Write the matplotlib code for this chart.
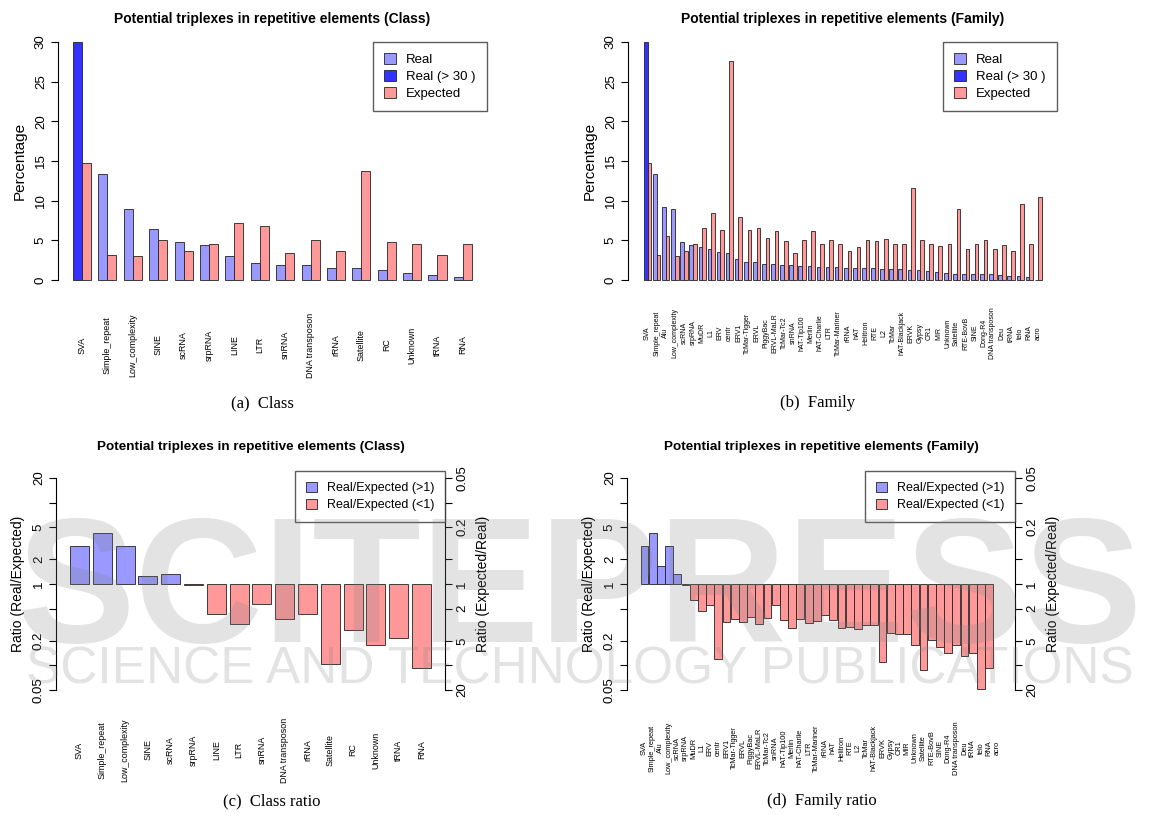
import matplotlib
matplotlib.use('Agg')
import matplotlib.pyplot as plt
from matplotlib.patches import Patch
from matplotlib.ticker import NullLocator
from matplotlib import transforms
import numpy as np

plt.rcParams['font.family'] = ['Liberation Sans', 'DejaVu Sans']

W, H = 1160, 816

class_labels = ['SVA', 'Simple_repeat', 'Low_complexity', 'SINE', 'scRNA', 'srpRNA', 'LINE', 'LTR',
                'snRNA', 'DNA transposon', 'rRNA', 'Satellite', 'RC', 'Unknown', 'tRNA', 'RNA']
class_real = [43.5, 13.4, 8.9, 6.4, 4.74, 4.45, 3.05, 2.2, 1.95, 1.85, 1.55, 1.45, 1.32, 0.82, 0.68, 0.42]
class_expected = [14.7, 3.2, 3.05, 5.1, 3.6, 4.6, 7.15, 6.75, 3.45, 5.0, 3.65, 13.75, 4.85, 4.6, 3.15, 4.5]

family_labels = ['SVA', 'Simple_repeat', 'Alu', 'Low_complexity', 'scRNA', 'srpRNA', 'MuDR', 'L1', 'ERV',
                 'centr', 'ERV1', 'TcMar-Tigger', 'ERVL', 'PiggyBac', 'ERVL-MaLR', 'TcMar-Tc2', 'snRNA',
                 'hAT-Tip100', 'Merlin', 'hAT-Charlie', 'LTR', 'TcMar-Mariner', 'rRNA', 'hAT', 'Helitron',
                 'RTE', 'L2', 'TcMar', 'hAT-Blackjack', 'ERVK', 'Gypsy', 'CR1', 'MIR', 'Unknown', 'Satellite',
                 'RTE-BovB', 'SINE', 'Dong-R4', 'DNA transposon', 'Deu', 'tRNA', 'telo', 'RNA', 'acro']
family_real = [43.5, 13.4, 9.15, 8.9, 4.74, 4.45, 4.1, 3.95, 3.55, 3.35, 2.7, 2.3, 2.25, 2.05, 2.0, 1.9, 1.9,
               1.82, 1.75, 1.68, 1.68, 1.6, 1.52, 1.5, 1.45, 1.45, 1.43, 1.42, 1.42, 1.3, 1.25, 1.12, 1.03,
               0.82, 0.8, 0.78, 0.75, 0.73, 0.7, 0.58, 0.53, 0.5, 0.42, 0.0]
family_expected = [14.7, 3.2, 5.5, 3.05, 3.6, 4.6, 6.5, 8.4, 6.35, 27.65, 7.9, 6.25, 6.55, 5.25, 6.2, 4.9,
                   3.45, 5.1, 6.15, 4.55, 5.05, 4.5, 3.7, 4.1, 5.05, 4.9, 5.15, 4.5, 4.55, 11.65, 5.05, 4.55,
                   4.25, 4.6, 9.0, 3.85, 4.5, 5.1, 3.95, 4.4, 3.7, 9.6, 4.5, 10.5]

light_blue = '#9999FF'
dark_blue = '#3333FF'
pink = '#FF9999'
edge = '#222222'

ratio_ticks = [0.05, 0.1, 0.2, 0.5, 1, 2, 5, 10, 20]
left_tick_labels = ['0.05', '', '0.2', '', '1', '2', '5', '', '20']
right_ticks = [20, 10, 5, 2, 1, 0.5, 0.2, 0.1, 0.05]
right_tick_labels = ['20', '', '5', '2', '1', '', '0.2', '', '0.05']

fig = plt.figure(figsize=(W / 100, H / 100), dpi=100)


def add_ax(left, top, right, bottom):
    return fig.add_axes([left / W, 1 - bottom / H, (right - left) / W, (bottom - top) / H])


def style_y(ax, side='left'):
    for s in ['top', 'right', 'bottom', 'left']:
        ax.spines[s].set_visible(s == side)
    ax.spines[side].set_linewidth(0.8)
    ax.set_xticks([])
    ax.tick_params(axis='y', length=5, width=0.8, pad=3, labelsize=9.5, labelrotation=90)
    for t in ax.get_yticklabels():
        t.set_va('center')


def x_labels(ax, labels, y_px, size):
    trans = transforms.blended_transform_factory(ax.transData, fig.transFigure)
    for i, lab in enumerate(labels):
        ax.text(i, 1 - y_px / H, lab, transform=trans, rotation=90, ha='center', va='center',
                fontsize=size, clip_on=False)


def pct_panel(left, right, labels, real, expected, width, xlim, title, label_y, label_size):
    ax = add_ax(left, 42, right, 280)
    real = np.array(real)
    expected = np.array(expected)
    x = np.arange(len(labels))
    shown = np.minimum(real, 30)
    colors = [dark_blue if r > 30 else light_blue for r in real]
    ax.bar(x - width / 2, shown, width, color=colors, edgecolor=edge, linewidth=0.6, clip_on=False)
    ax.bar(x + width / 2, expected, width, color=pink, edgecolor=edge, linewidth=0.6, clip_on=False)
    ax.set_xlim(*xlim)
    ax.set_ylim(0, 30)
    ax.set_yticks([0, 5, 10, 15, 20, 25, 30])
    style_y(ax)
    ax.set_ylabel('Percentage', fontsize=11, labelpad=6)
    ax.set_title(title, fontsize=10, fontweight='bold', pad=14)
    x_labels(ax, labels, label_y, label_size)
    handles = [Patch(facecolor=light_blue, edgecolor=edge, linewidth=0.6, label='Real'),
               Patch(facecolor=dark_blue, edgecolor=edge, linewidth=0.6, label='Real (> 30 )'),
               Patch(facecolor=pink, edgecolor=edge, linewidth=0.6, label='Expected')]
    ax.legend(handles=handles, loc='upper right', bbox_to_anchor=(1, 1), borderaxespad=0,
              fancybox=False, edgecolor='#333333', fontsize=9.5, handlelength=0.9, handleheight=0.9,
              handletextpad=0.8, labelspacing=0.3, borderpad=0.85)
    return ax


def ratio_panel(left, right, labels, real, expected, width, xlim, title, label_y, label_size):
    ax = add_ax(left, 478, right, 690)
    real = np.array(real)
    expected = np.array(expected)
    ratio = real / expected
    x = np.arange(len(labels))
    up = ratio >= 1
    down = (ratio > 0) & (ratio < 1)
    ax.bar(x[up], ratio[up] - 1, width, bottom=1, color=light_blue, edgecolor=edge, linewidth=0.6)
    ax.bar(x[down], ratio[down] - 1, width, bottom=1, color=pink, edgecolor=edge, linewidth=0.6)
    ax.set_yscale('log')
    ax.set_xlim(*xlim)
    ax.set_ylim(0.05, 20)
    ax.yaxis.set_minor_locator(NullLocator())
    ax.set_yticks(ratio_ticks, left_tick_labels)
    style_y(ax)
    ax.set_ylabel('Ratio (Real/Expected)', fontsize=10, labelpad=6)
    ax.set_title(title, fontsize=9.7, fontweight='bold', pad=20)

    ax2 = ax.twinx()
    ax2.set_yscale('log')
    ax2.set_ylim(20, 0.05)
    ax2.yaxis.set_minor_locator(NullLocator())
    ax2.set_yticks(right_ticks, right_tick_labels)
    style_y(ax2, 'right')
    ax2.set_ylabel('Ratio (Expected/Real)', fontsize=10, labelpad=6)

    x_labels(ax, labels, label_y, label_size)
    handles = [Patch(facecolor=light_blue, edgecolor=edge, linewidth=0.6, label='Real/Expected (>1)'),
               Patch(facecolor=pink, edgecolor=edge, linewidth=0.6, label='Real/Expected (<1)')]
    ax2.legend(handles=handles, loc='upper right', bbox_to_anchor=(1, 1 + 7 / 212), borderaxespad=0,
               fancybox=False, edgecolor='#333333', fontsize=9, handlelength=0.9, handleheight=0.9,
               handletextpad=0.8, labelspacing=0.35, borderpad=0.85)
    return ax


title_c = 'Potential triplexes in repetitive elements (Class)'
title_f = 'Potential triplexes in repetitive elements (Family)'

pct_panel(58, 487, class_labels, class_real, class_expected, 0.356, (-0.947, 15.95), title_c, 345, 6.4)
pct_panel(628, 1057, family_labels, family_real, family_expected, 0.40, (-2.16, 45.05), title_f, 333, 5.0)
ratio_panel(56, 445, class_labels, class_real, class_expected, 0.833, (-1.031, 16.03), title_c, 750, 6.4)
ratio_panel(627, 1015, family_labels, family_real, family_expected, 0.95, (-2.12, 45.14), title_f, 748, 5.3)

for txt, cx, cy in [('(a)  Class', 262, 403), ('(b)  Family', 818, 403),
                    ('(c)  Class ratio', 272, 801), ('(d)  Family ratio', 822, 801)]:
    fig.text(cx / W, 1 - cy / H, txt, ha='center', va='center', fontsize=12, family='Liberation Serif')

# faint publisher watermark drawn over the lower panels
fig.text(0.5, 1 - 596 / H, 'SCITEPRESS', ha='center', va='center', fontsize=128, fontweight='bold',
         color='#808080', alpha=0.22, zorder=20)
fig.text(0.5, 1 - 670 / H, 'SCIENCE AND TECHNOLOGY PUBLICATIONS', ha='center', va='center', fontsize=37,
         color='#808080', alpha=0.22, zorder=20)

fig.savefig('out.png', dpi=100)
